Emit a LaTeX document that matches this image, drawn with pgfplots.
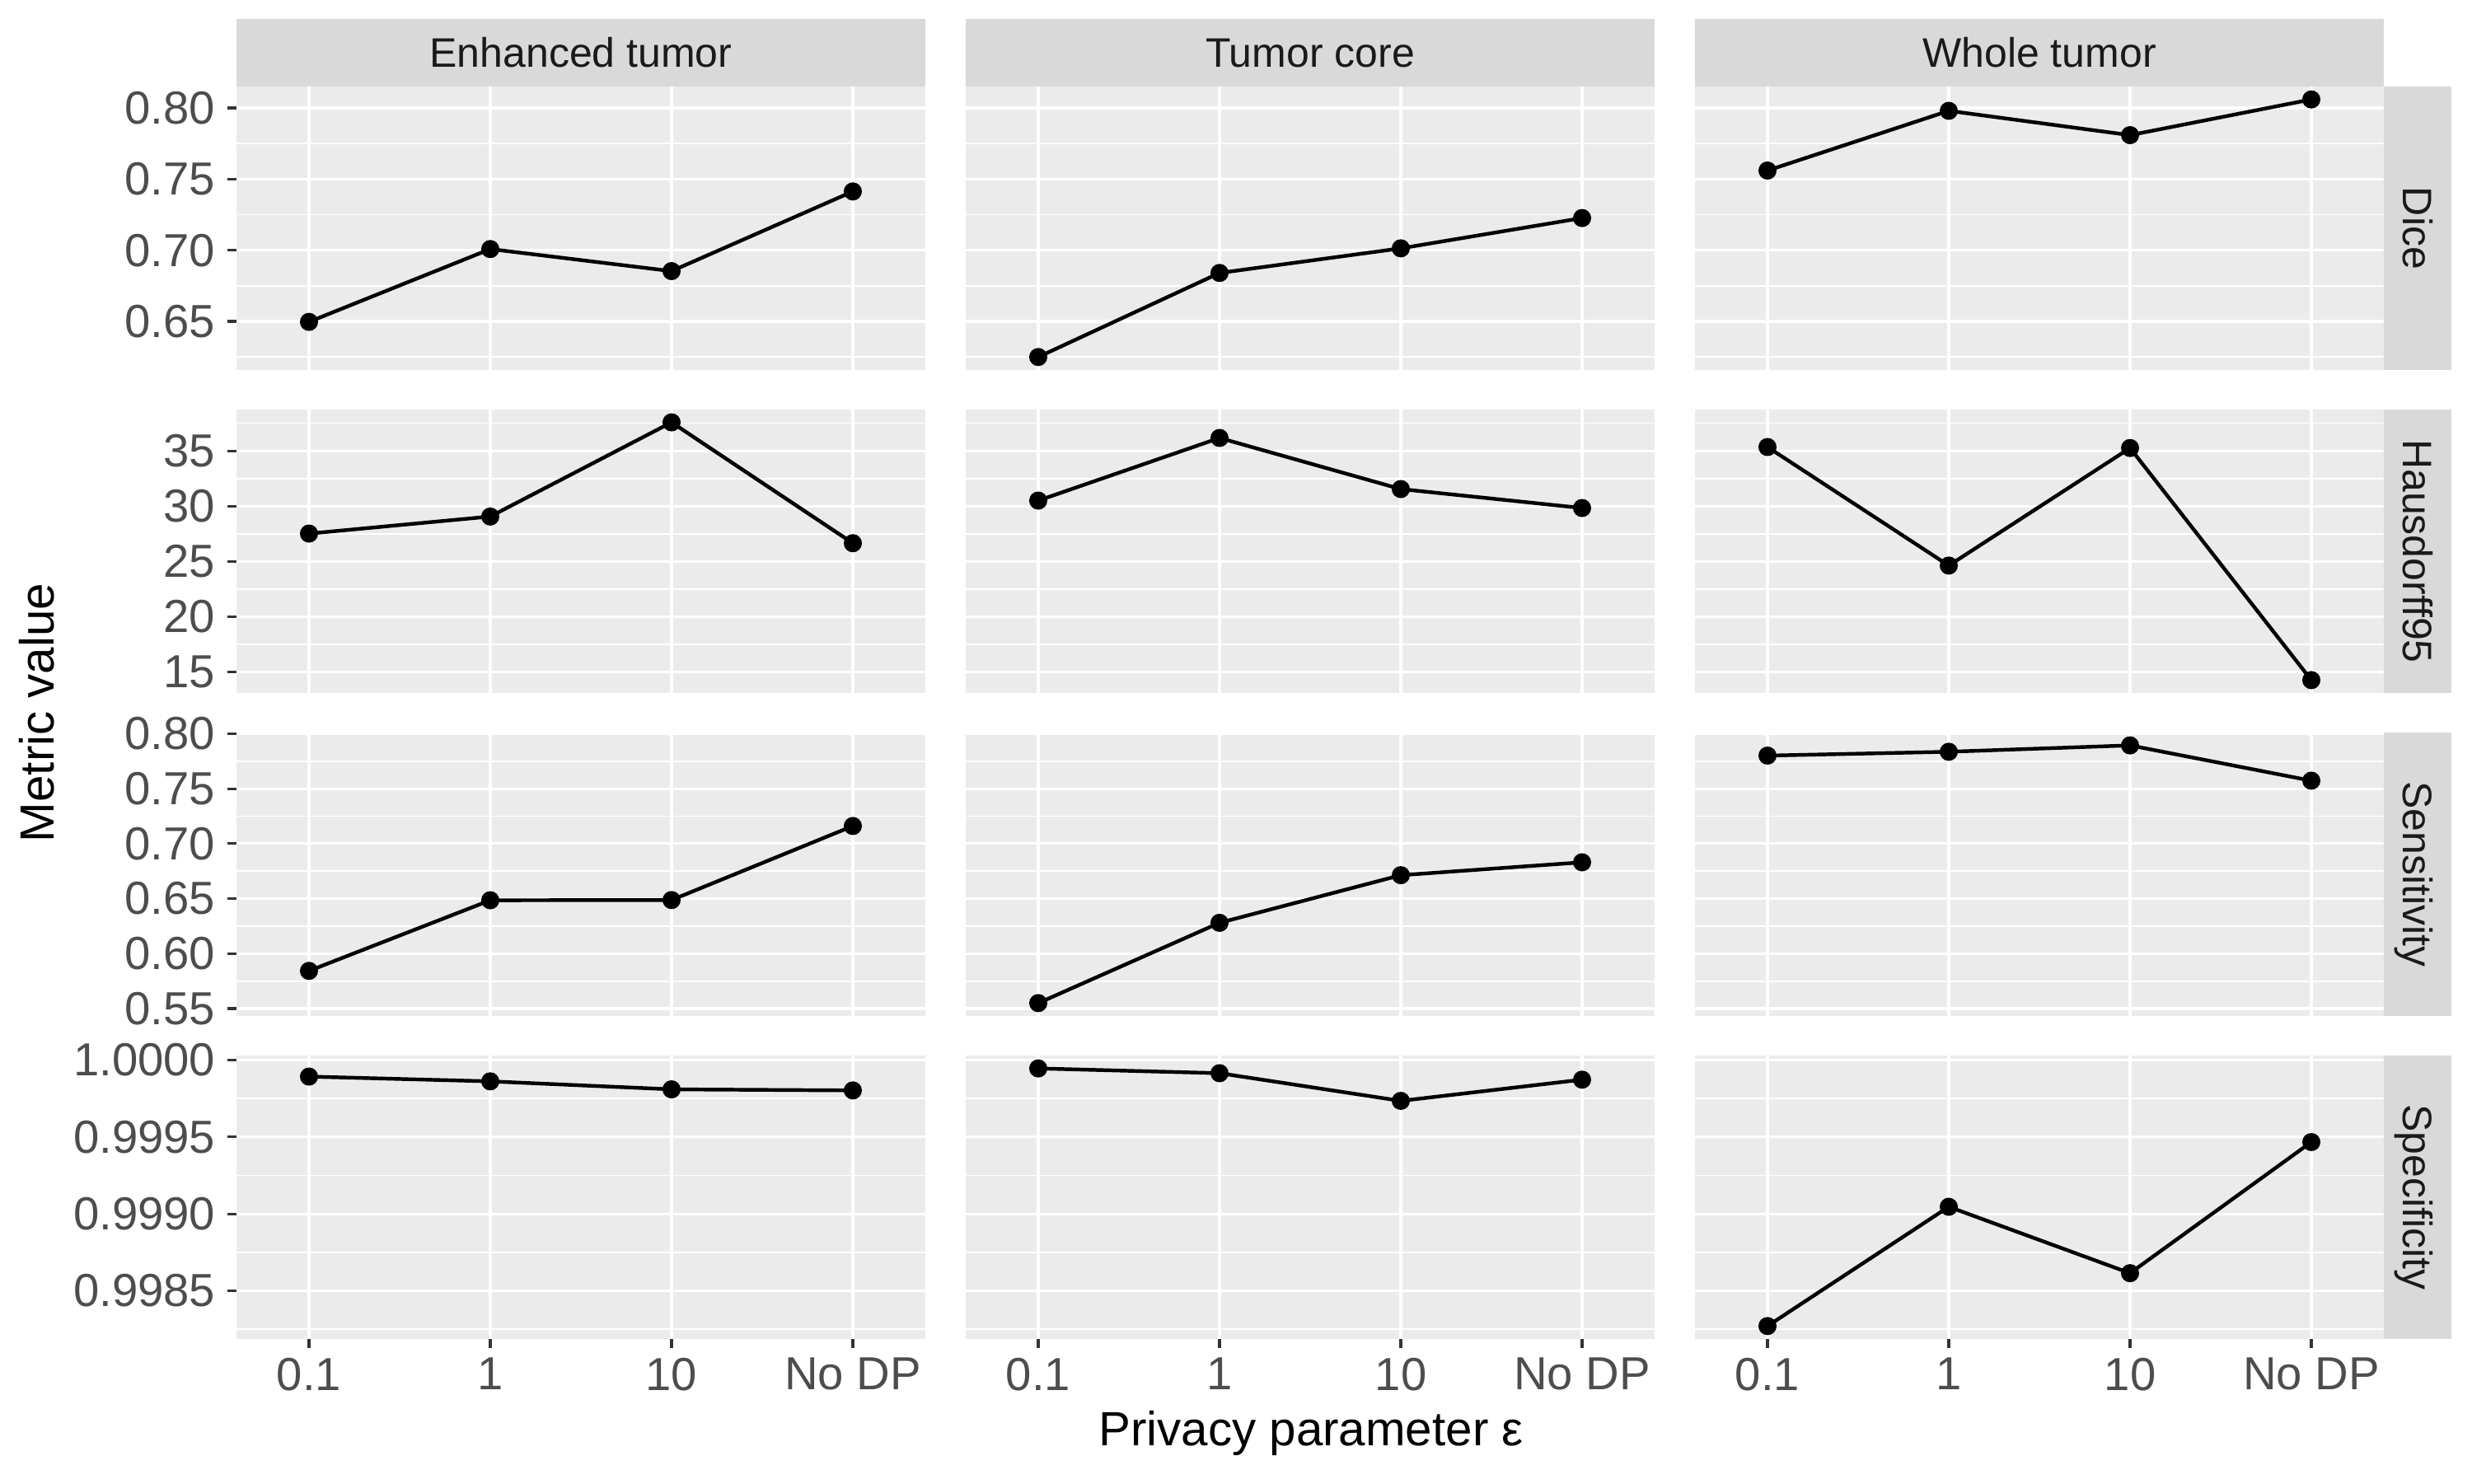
\documentclass[border=0pt]{standalone}
\usepackage{fontspec}
\setmainfont{Liberation Sans}
\usepackage{pgfplots}
\pgfplotsset{compat=1.18}

\definecolor{panelbg}{HTML}{EBEBEB}
\definecolor{stripbg}{HTML}{D9D9D9}
\definecolor{striptext}{HTML}{1A1A1A}
\definecolor{ticktext}{HTML}{4D4D4D}
\definecolor{tickline}{HTML}{333333}

\newcommand\ticksize{\fontsize{13.5bp}{16bp}\selectfont}
\newcommand\stripsize{\fontsize{12bp}{14bp}\selectfont}
\newcommand\titlesize{\fontsize{14bp}{16bp}\selectfont}

% strips of the facet grid
\newcommand\topstrip[1]{%
  \fill[stripbg] (rel axis cs:0,1) rectangle ([yshift=19.68bp]rel axis cs:1,1);
  \node[font=\stripsize, text=striptext, anchor=base, inner sep=0pt]
    at ([yshift=5.6bp]rel axis cs:0.5,1) {#1};}
\newcommand\rightstrip[1]{%
  \fill[stripbg] (rel axis cs:1,0) rectangle ([xshift=19.68bp]rel axis cs:1,1);
  \node[font=\stripsize, text=striptext, anchor=base, inner sep=0pt, rotate=-90]
    at ([xshift=5.64bp]rel axis cs:1,0.5) {#1};}

\pgfplotsset{
  facet/.style={
    scale only axis, width=200.64bp, height=82.56bp,
    anchor=north west, clip=false,
    xmin=0.6, xmax=4.4, xtick={1,2,3,4},
    axis background/.style={fill=panelbg},
    axis line style={draw=none},
    xmajorgrids, ymajorgrids, yminorgrids,
    major grid style={white, line width=0.75bp},
    minor grid style={white, line width=0.4bp},
    tick style={draw=tickline, line width=0.75bp},
    major tick length=2.64bp, minor tick length=0pt,
    tick align=outside, tick pos=left,
    ticklabel style={font=\ticksize, text=ticktext, inner sep=0pt},
    /pgf/number format/assume math mode=true,
    yticklabel shift=3.36bp, xticklabel shift=2.64bp,
  },
  series/.style={black, line width=1.07bp, mark=*, mark size=2.1bp},
  inner x/.style={xticklabels={}, xtick style={draw=none}},
  inner y/.style={yticklabels={}, ytick style={draw=none}},
  bottom x/.style={xticklabels={0.1,1,10,No DP}},
  dice/.style={ymin=0.6158, ymax=0.8151,
    ytick={0.65,0.70,0.75,0.80}, minor ytick={0.625,0.675,0.725,0.775},
    yticklabel style={/pgf/number format/.cd, fixed, fixed zerofill, precision=2}},
  haus/.style={ymin=13.12, ymax=38.73,
    ytick={15,20,25,30,35}, minor ytick={17.5,22.5,27.5,32.5,37.5}},
  sens/.style={ymin=0.5433, ymax=0.8010,
    ytick={0.55,0.60,0.65,0.70,0.75,0.80}, minor ytick={0.575,0.625,0.675,0.725,0.775},
    yticklabel style={/pgf/number format/.cd, fixed, fixed zerofill, precision=2}},
  spec/.style={ymin=0.998186, ymax=1.000030,
    ytick={0.9985,0.999,0.9995,1}, minor ytick={0.99825,0.99875,0.99925,0.99975},
    yticklabel style={/pgf/number format/.cd, fixed, fixed zerofill, precision=4}},
}

\begin{document}
\begin{tikzpicture}
\path[use as bounding box] (0,0) rectangle (720bp,432bp);

% ---- Dice ----
\begin{axis}[facet, dice, inner x, at={(68.88bp,406.8bp)}]
  \addplot[series] coordinates {(1,0.6496) (2,0.7008) (3,0.6853) (4,0.7413)};
  \topstrip{Enhanced tumor}
\end{axis}
\begin{axis}[facet, dice, inner x, inner y, at={(281.28bp,406.8bp)}]
  \addplot[series] coordinates {(1,0.6249) (2,0.6840) (3,0.7013) (4,0.7226)};
  \topstrip{Tumor core}
\end{axis}
\begin{axis}[facet, dice, inner x, inner y, at={(493.68bp,406.8bp)}]
  \addplot[series] coordinates {(1,0.7560) (2,0.7980) (3,0.7809) (4,0.8060)};
  \topstrip{Whole tumor}
  \rightstrip{Dice}
\end{axis}

% ---- Hausdorff95 ----
\begin{axis}[facet, haus, inner x, at={(68.88bp,312.72bp)}]
  \addplot[series] coordinates {(1,27.52) (2,29.06) (3,37.57) (4,26.65)};
\end{axis}
\begin{axis}[facet, haus, inner x, inner y, at={(281.28bp,312.72bp)}]
  \addplot[series] coordinates {(1,30.50) (2,36.16) (3,31.54) (4,29.83)};
\end{axis}
\begin{axis}[facet, haus, inner x, inner y, at={(493.68bp,312.72bp)}]
  \addplot[series] coordinates {(1,35.34) (2,24.63) (3,35.25) (4,14.28)};
  \rightstrip{Hausdorff95}
\end{axis}

% ---- Sensitivity ----
\begin{axis}[facet, sens, inner x, at={(68.88bp,218.64bp)}]
  \addplot[series] coordinates {(1,0.5843) (2,0.6485) (3,0.6487) (4,0.7160)};
\end{axis}
\begin{axis}[facet, sens, inner x, inner y, at={(281.28bp,218.64bp)}]
  \addplot[series] coordinates {(1,0.5550) (2,0.6280) (3,0.6713) (4,0.6830)};
\end{axis}
\begin{axis}[facet, sens, inner x, inner y, at={(493.68bp,218.64bp)}]
  \addplot[series] coordinates {(1,0.7800) (2,0.7835) (3,0.7893) (4,0.7572)};
  \rightstrip{Sensitivity}
\end{axis}

% ---- Specificity ----
\begin{axis}[facet, spec, bottom x, at={(68.88bp,124.56bp)}]
  \addplot[series] coordinates {(1,0.999893) (2,0.999862) (3,0.999810) (4,0.999803)};
\end{axis}
\begin{axis}[facet, spec, bottom x, inner y, at={(281.28bp,124.56bp)}]
  \addplot[series] coordinates {(1,0.999946) (2,0.999915) (3,0.999735) (4,0.999873)};
\end{axis}
\begin{axis}[facet, spec, bottom x, inner y, at={(493.68bp,124.56bp)}]
  \addplot[series] coordinates {(1,0.998270) (2,0.999046) (3,0.998614) (4,0.999467)};
  \rightstrip{Specificity}
\end{axis}

\node[font=\titlesize, rotate=90, anchor=base, inner sep=0pt] at (15.84bp,224.4bp) {Metric value};
\node[font=\titlesize, anchor=base, inner sep=0pt] at (381.84bp,11.04bp) {Privacy parameter ε};
\end{tikzpicture}
\end{document}
